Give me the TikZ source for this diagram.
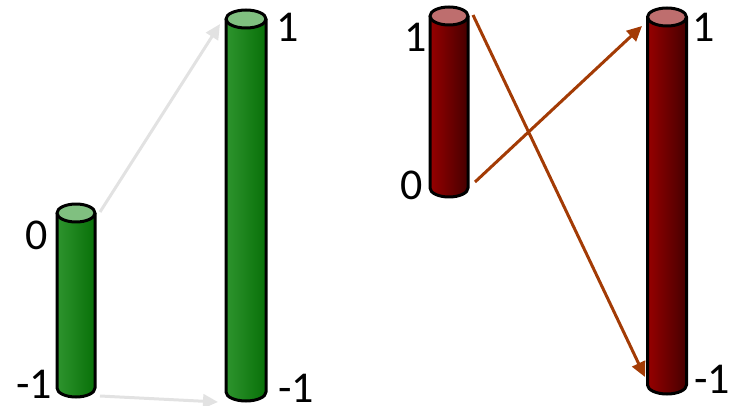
\documentclass[tikz,border=0pt]{standalone}
\usepackage{fontspec}
\setmainfont{Carlito}
\usetikzlibrary{arrows.meta}
\definecolor{gA}{RGB}{46,148,46}
\definecolor{gB}{RGB}{8,112,8}
\definecolor{gT}{RGB}{128,192,128}
\definecolor{rA}{RGB}{150,0,0}
\definecolor{rB}{RGB}{70,0,0}
\definecolor{rT}{RGB}{190,110,110}
\definecolor{grayarrow}{RGB}{226,226,226}
\definecolor{redarrow}{RGB}{163,59,5}
\newcommand\mycyl[7]{%
  \fill[left color=#4,right color=#5] (#1-#7,#2) -- (#1-#7,#3) arc[start angle=180,end angle=0,x radius=#7,y radius=9] -- (#1+#7,#2) -- cycle;
  \draw[cylline] (#1-#7,#2) -- (#1-#7,#3) arc[start angle=180,end angle=0,x radius=#7,y radius=9] -- (#1+#7,#2);
  \draw[cylline,fill=#6] (#1,#2) ellipse[x radius=#7,y radius=9];
}
\tikzset{
  cylline/.style={line width=3pt,black,line join=round},
  lab/.style={font=\fontsize{44}{44}\selectfont,inner sep=0pt},
  grayarr/.style={grayarrow,line width=3pt,-{Triangle[length=15pt,width=14pt]}},
  redarr/.style={redarrow,line width=3pt,-{Triangle[length=15pt,width=14pt]}}
}
\begin{document}
\begin{tikzpicture}[x=1pt,y=-1pt]
\useasboundingbox (0,0) rectangle (738,406);
% cylinders
\mycyl{76}{213}{388}{gA}{gB}{gT}{19}
\mycyl{246}{19}{392}{gA}{gB}{gT}{20}
\mycyl{449}{16}{188}{rA}{rB}{rT}{19}
\mycyl{667}{17}{385}{rA}{rB}{rT}{19.5}
% labels
\node[lab] (l0a) at (36.5,235) {0};
\node[lab] (l1a) at (34,384) {-1};
\node[lab] (l2a) at (288,27) {1};
\node[lab] (l3a) at (296,388) {-1};
\node[lab] (l0b) at (416,37) {1};
\node[lab] (l1b) at (412,185) {0};
\node[lab] (l2b) at (704,27) {1};
\node[lab] (l3b) at (712,379) {-1};
% arrow ends
\coordinate (ga0) at (100,212);
\coordinate (ga1) at (220,24);
\coordinate (gb0) at (100,396);
\coordinate (gb1) at (218,402);
\coordinate (ra0) at (473,15);
\coordinate (ra1) at (645,377);
\coordinate (rb0) at (475,182);
\coordinate (rb1) at (642,26);
\draw[grayarr] (ga0) -- (ga1);
\draw[grayarr] (gb0) -- (gb1);
\draw[redarr] (ra0) -- (ra1);
\draw[redarr] (rb0) -- (rb1);
\end{tikzpicture}
\end{document}
